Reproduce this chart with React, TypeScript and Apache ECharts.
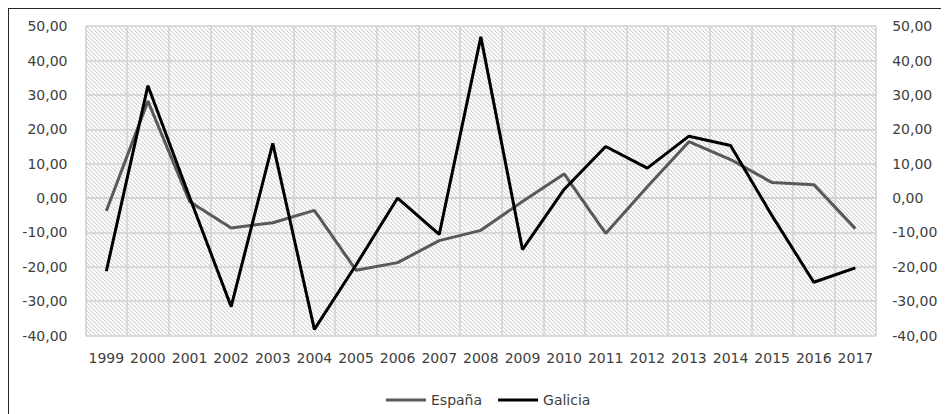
import React, { useEffect, useRef } from "react";
import * as echarts from "echarts";

const years = ["1999","2000","2001","2002","2003","2004","2005","2006","2007","2008","2009","2010","2011","2012","2013","2014","2015","2016","2017"];
const espana = [-3.8, 28.2, -1.0, -8.7, -7.2, -3.6, -21.0, -18.8, -12.4, -9.4, -1.0, 7.0, -10.3, 3.3, 16.4, 11.2, 4.5, 3.9, -8.9];
const galicia = [-21.3, 32.7, 0.3, -31.6, 15.9, -38.2, -19.5, 0.0, -10.6, 46.9, -15.0, 2.5, 15.0, 8.7, 18.0, 15.3, -5.2, -24.5, -20.3];
const yMin = -40;
const yMax = 50;
const yStep = 10;

function makeHatch(): HTMLCanvasElement {
  const s = 4;
  const c = document.createElement("canvas");
  c.width = s;
  c.height = s;
  const ctx = c.getContext("2d")!;
  const img = ctx.createImageData(s, s);
  for (let y = 0; y < s; y++) {
    for (let x = 0; x < s; x++) {
      const k = (((x - y) % s) + s) % s;
      let v = 255;
      if (k === 0) v = 0xd2;
      else if (k === 1) v = 0xee;
      const i = (y * s + x) * 4;
      img.data[i] = v;
      img.data[i + 1] = v;
      img.data[i + 2] = v;
      img.data[i + 3] = 255;
    }
  }
  ctx.putImageData(img, 0, 0);
  return c;
}

const fmt = (v: number) => v.toFixed(2).replace(".", ",");

export default function App() {
  const ref = useRef<HTMLDivElement>(null);
  useEffect(() => {
    document.documentElement.style.overflow = "hidden";
    const chart = echarts.init(ref.current!, null, { renderer: "svg" });
    const textColor = "#404040";
    const gridColor = "#d0d0d0";
    const font = "DejaVu Sans";
    chart.setOption({
      animation: false,
      backgroundColor: "#ffffff",
      grid: {
        left: 76.5,
        top: 17.2,
        width: 790.7,
        height: 309.3,
        show: true,
        borderWidth: 0,
        backgroundColor: { image: makeHatch(), repeat: "repeat", imageWidth: 4, imageHeight: 4 } as any,
      },
      legend: {
        left: 372,
        top: 379,
        icon: "rect",
        itemWidth: 40,
        itemHeight: 3,
        itemGap: 16,
        textStyle: { color: textColor, fontFamily: font, fontSize: 14 },
        data: ["España", "Galicia"],
      },
      xAxis: {
        type: "category",
        data: years,
        boundaryGap: true,
        axisTick: { show: false },
        axisLine: { show: true, lineStyle: { color: gridColor, width: 1.5 } },
        axisLabel: { interval: 0, margin: 15, color: textColor, fontFamily: font, fontSize: 14 },
        splitLine: { show: true, interval: 0, lineStyle: { color: gridColor, width: 1.5 } },
      },
      yAxis: [
        {
          type: "value",
          min: yMin,
          max: yMax,
          interval: yStep,
          position: "left",
          axisLine: { show: false },
          axisTick: { show: false },
          axisLabel: { margin: 18, color: textColor, fontFamily: font, fontSize: 14, formatter: fmt },
          splitLine: { show: true, lineStyle: { color: gridColor, width: 1.5 } },
        },
        {
          type: "value",
          min: yMin,
          max: yMax,
          interval: yStep,
          position: "right",
          axisLine: { show: false },
          axisTick: { show: false },
          axisLabel: { margin: 16, color: textColor, fontFamily: font, fontSize: 14, formatter: fmt },
          splitLine: { show: false },
        },
      ],
      series: [
        {
          name: "España",
          type: "line",
          data: espana,
          symbol: "none",
          yAxisIndex: 0,
          lineStyle: { color: "#595959", width: 3 },
          itemStyle: { color: "#595959" },
        },
        {
          name: "Galicia",
          type: "line",
          data: galicia,
          symbol: "none",
          yAxisIndex: 0,
          lineStyle: { color: "#000000", width: 3 },
          itemStyle: { color: "#000000" },
        },
      ],
    });
    return () => chart.dispose();
  }, []);
  return (
    <div
      style={{
        width: 941,
        height: 406,
        boxSizing: "border-box",
        borderTop: "1.5px solid #262626",
        borderLeft: "1.5px solid #262626",
        overflow: "hidden",
      }}
    >
      <div ref={ref} style={{ width: 939.5, height: 404.5 }} />
    </div>
  );
}
